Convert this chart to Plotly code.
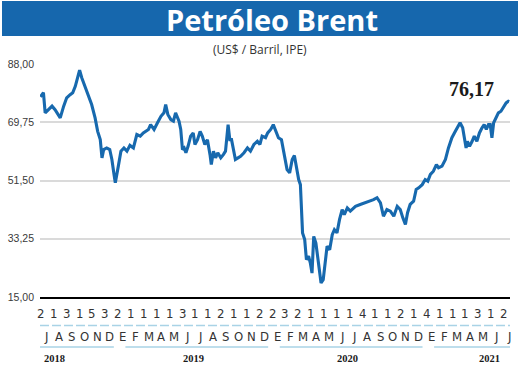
import pandas as pd
import plotly.graph_objects as go

# ---------------- data ----------------
start_date = "2018-07-02"
day_offsets = [
    0, 7, 11, 19, 27, 34, 40, 46, 54, 61,
    69, 75, 81, 86, 91, 96, 104, 112, 119, 127,
    133, 139, 143, 147, 154, 161, 166, 171, 174, 181,
    187, 194, 201, 208, 216, 224, 232, 239, 251, 256,
    264, 272, 280, 287, 291, 296, 303, 309, 314, 322,
    326, 330, 334, 338, 343, 349, 355, 359, 365, 371,
    376, 382, 388, 394, 397, 402, 407, 412, 419, 425,
    430, 436, 440, 444, 450, 453, 459, 465, 473, 481,
    488, 496, 504, 510, 515, 523, 528, 535, 541, 546,
    553, 560, 566, 573, 579, 585, 590, 595, 600, 604,
    607, 609, 614, 618, 623, 627, 631, 635, 640, 644,
    649, 652, 657, 662, 666, 672, 678, 683, 689, 695,
    701, 706, 713, 720, 732, 743, 755, 763, 774, 782,
    790, 797, 805, 813, 821, 829, 836, 842, 848, 853,
    859, 867, 873, 879, 887, 894, 900, 906, 913, 920,
    925, 933, 941, 948, 956, 964, 969, 975, 981, 985,
    989, 992, 997, 1003, 1008, 1014, 1020, 1026, 1031, 1036,
    1041, 1045, 1049, 1053, 1059, 1064, 1070, 1076, 1082, 1087,
    1089,
]
prices = [
    77.7, 79.0, 72.7, 73.7, 74.8, 73.7, 72.2, 71.1, 74.8, 77.4,
    78.4, 79.0, 81.0, 83.7, 86.1, 83.7, 81.0, 77.9, 75.3, 71.1,
    66.9, 64.3, 58.6, 61.2, 61.7, 61.2, 58.1, 53.4, 50.8, 56.0,
    60.7, 61.7, 60.7, 62.5, 61.7, 65.9, 65.4, 66.4, 67.5, 69.0,
    67.5, 69.6, 71.6, 72.7, 75.3, 72.2, 70.6, 70.1, 72.7, 70.1,
    67.5, 61.2, 61.7, 60.2, 62.2, 65.4, 66.4, 62.8, 64.3, 66.9,
    65.4, 62.8, 64.3, 59.6, 56.5, 60.7, 58.6, 60.2, 58.6, 59.6,
    60.7, 69.0, 64.3, 64.3, 60.7, 58.1, 58.6, 59.1, 60.2, 61.7,
    60.7, 62.8, 63.8, 62.8, 65.4, 64.9, 66.4, 67.5, 69.0, 67.5,
    64.9, 64.3, 60.2, 54.9, 53.9, 58.1, 59.3, 54.9, 51.8, 50.2,
    43.4, 35.1, 33.0, 26.7, 27.8, 25.7, 22.5, 34.0, 31.9, 27.8,
    22.5, 19.4, 20.4, 25.7, 30.9, 29.8, 34.5, 36.1, 35.1, 39.3,
    42.4, 40.8, 42.9, 41.9, 43.4, 44.0, 44.5, 45.0, 45.5, 46.1,
    44.5, 40.3, 42.4, 41.9, 40.3, 43.4, 42.4, 39.8, 37.7, 41.4,
    44.0, 45.0, 48.7, 49.2, 50.2, 51.8, 51.3, 53.4, 54.4, 56.5,
    55.5, 56.0, 58.1, 61.7, 64.9, 66.9, 68.0, 69.6, 68.0, 65.4,
    61.7, 63.8, 62.2, 63.8, 65.4, 63.8, 66.4, 68.0, 69.0, 67.5,
    69.0, 69.0, 64.9, 69.6, 71.6, 72.7, 73.2, 74.3, 75.8, 76.3,
    76.17,
]
last_label = "76,17"

y_tickvals = [15.0, 33.25, 51.5, 69.75, 88.0]
y_ticktext = ["15,00", "33,25", "51,50", "69,75", "88,00"]

first_day_labels = ["2", "1", "3", "1", "5", "3",
                    "2", "1", "1", "1", "1", "3", "1", "1", "2", "1", "1", "2",
                    "2", "3", "2", "1", "1", "1", "1", "4", "1", "1", "2", "1",
                    "4", "1", "1", "1", "3", "1", "2"]
month_letters = ["J", "A", "S", "O", "N", "D",
                 "E", "F", "M", "A", "M", "J", "J", "A", "S", "O", "N", "D",
                 "E", "F", "M", "A", "M", "J", "J", "A", "S", "O", "N", "D",
                 "E", "F", "M", "A", "M", "J", "J"]
year_labels = ["2018", "2019", "2020", "2021"]
months_per_year = [6, 12, 12, 7]

title_text = "Petróleo Brent"
subtitle_text = "(US$ / Barril, IPE)"

# ---------------- styling helpers ----------------
W, H = 520, 366
ML, MR, MT, MB = 40, 10, 64, 69
PW, PH = W - ML - MR, H - MT - MB


def px_x(px):
    return (px - ML) / PW


def px_y(py):
    return (H - MB - py) / PH


BLUE = "#1667ad"
LINE_BLUE = "#1769ae"
LIGHT_BLUE = "#a9d3e6"
TXT = "#333333"
NARROW = "Liberation Sans Narrow, DejaVu Sans Condensed, Arial Narrow, sans-serif"

dates = pd.to_datetime(start_date) + pd.to_timedelta(day_offsets, unit="D")
x_start = pd.to_datetime(start_date) - pd.Timedelta(days=1)
x_end = pd.to_datetime(start_date) + pd.Timedelta(days=1091)
x2_range = [-0.04, 36.5]

fig = go.Figure()
fig.add_trace(go.Scatter(
    x=dates, y=prices, mode="lines",
    line=dict(color=LINE_BLUE, width=3.1),
    showlegend=False, hoverinfo="skip",
))
# helper trace so the month-index axis exists
fig.add_trace(go.Scatter(
    x=[0], y=[None], xaxis="x2", yaxis="y", mode="markers",
    showlegend=False, hoverinfo="skip",
))

annotations = []
shapes = []

# title bar
shapes.append(dict(type="rect", xref="paper", yref="paper",
                   x0=px_x(2), x1=px_x(518), y0=px_y(36), y1=px_y(1),
                   fillcolor=BLUE, line=dict(width=0), layer="below"))
annotations.append(dict(text="<b>" + title_text + "</b>", xref="paper", yref="paper",
                        x=px_x(271.5), y=px_y(19), showarrow=False,
                        xanchor="center", yanchor="middle",
                        font=dict(family="Open Sans, sans-serif", size=29, color="white")))
annotations.append(dict(text=subtitle_text, xref="paper", yref="paper",
                        x=px_x(260), y=px_y(49), showarrow=False,
                        xanchor="center", yanchor="middle",
                        font=dict(family="Open Sans, sans-serif", size=12, color=TXT)))

# last value label
annotations.append(dict(text="<b>" + last_label + "</b>", x=dates[-1], y=prices[-1],
                        xref="x", yref="y", showarrow=False,
                        xanchor="center", yanchor="middle", xshift=-38, yshift=13,
                        font=dict(family="Liberation Serif, serif", size=20, color="#1a1a1a")))

# number row (first trading day of each month)
for i, t in enumerate(first_day_labels):
    annotations.append(dict(text=t, x=i, xref="x2", y=0, yref="paper", yshift=-16,
                            showarrow=False, xanchor="center", yanchor="middle",
                            font=dict(family=NARROW, size=13, color=TXT)))
# month letters
for i, t in enumerate(month_letters):
    annotations.append(dict(text=t, x=i + 0.4, xref="x2", y=0, yref="paper", yshift=-39,
                            showarrow=False, xanchor="center", yanchor="middle",
                            font=dict(family=NARROW, size=13, color=TXT)))

# dashed separator
shapes.append(dict(type="line", xref="paper", yref="paper", x0=0, x1=1,
                   y0=px_y(325.5), y1=px_y(325.5),
                   line=dict(color=LIGHT_BLUE, width=1.5, dash="9px,3px")))

# year underlines and labels
idx = 0
n_years = len(year_labels)
for k, (yl, n) in enumerate(zip(year_labels, months_per_year)):
    first_i, last_i = idx, idx + n - 1
    x0 = x2_range[0] if k == 0 else first_i + 0.6
    x1 = x2_range[1] if k == n_years - 1 else last_i + 0.7
    shapes.append(dict(type="line", xref="x2", yref="paper", x0=x0, x1=x1,
                       y0=px_y(347), y1=px_y(347),
                       line=dict(color=LIGHT_BLUE, width=1.5)))
    if k == 0:
        xa, xanc = 0.1, "left"
    elif k == n_years - 1:
        xa, xanc = last_i - 0.1, "right"
    else:
        xa, xanc = (first_i + last_i) / 2 + 0.4, "center"
    annotations.append(dict(text="<b>" + yl + "</b>", x=xa, xref="x2", y=0, yref="paper",
                            yshift=-61, showarrow=False, xanchor=xanc, yanchor="middle",
                            font=dict(family="Liberation Serif, serif", size=10.5, color="#1a1a1a")))
    idx += n

fig.update_layout(
    width=W, height=H,
    margin=dict(l=ML, r=MR, t=MT, b=MB, autoexpand=False),
    paper_bgcolor="white", plot_bgcolor="white",
    showlegend=False,
    xaxis=dict(type="date", range=[x_start, x_end], showgrid=False, zeroline=False,
               showticklabels=False, ticks="", showline=True, linecolor="black",
               linewidth=2),
    xaxis2=dict(overlaying="x", anchor="y", side="bottom", range=x2_range,
                showgrid=False, zeroline=False, showticklabels=False, ticks="",
                showline=False),
    yaxis=dict(range=[15, 88], tickvals=y_tickvals, ticktext=y_ticktext,
               showgrid=True, gridcolor="#dadada", gridwidth=1.5, zeroline=False,
               showline=False, ticks="", ticklabelstandoff=5,
               tickfont=dict(family="Liberation Sans, Arial, sans-serif", size=10.5,
                             color="#3a3a3a")),
    annotations=annotations,
    shapes=shapes,
)

fig.write_html(
    "out.html",
    config={"displayModeBar": False},
    post_script="document.body.style.margin='0';document.body.style.overflow='hidden';",
)
